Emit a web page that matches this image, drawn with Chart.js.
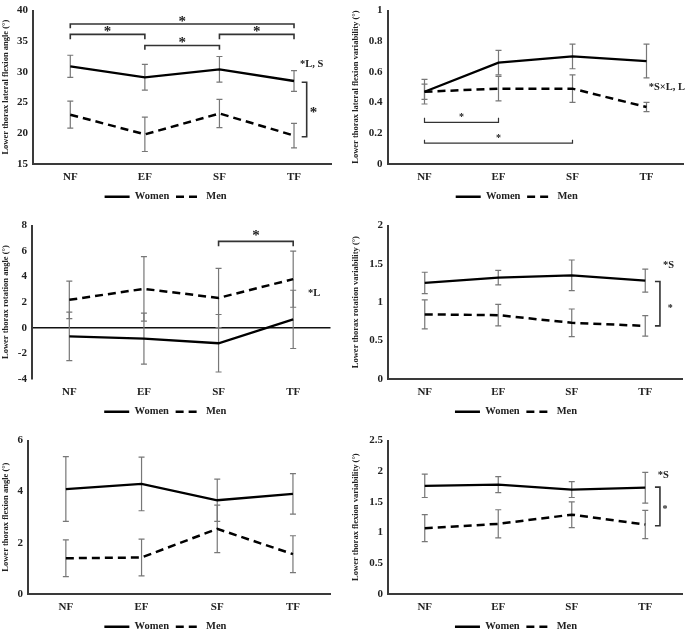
<!DOCTYPE html>
<html>
<head>
<meta charset="utf-8">
<script src="https://cdn.jsdelivr.net/npm/chart.js@4.4.1/dist/chart.umd.min.js"></script>
<style>
  html, body { margin: 0; padding: 0; background: #fff; }
  #wrap { position: relative; width: 685px; height: 633px; overflow: hidden; }
  canvas { position: absolute; }
</style>
</head>
<body>
<div id="wrap">
  <canvas id="c1" width="342" height="212" style="left:0;top:0"></canvas>
  <canvas id="c2" width="343" height="212" style="left:342px;top:0"></canvas>
  <canvas id="c3" width="342" height="212" style="left:0;top:215px"></canvas>
  <canvas id="c4" width="343" height="212" style="left:342px;top:215px"></canvas>
  <canvas id="c5" width="342" height="212" style="left:0;top:430px"></canvas>
  <canvas id="c6" width="343" height="212" style="left:342px;top:430px"></canvas>
</div>
<script>
const conditions = ['NF', 'EF', 'SF', 'TF'];

// lateral flexion angle
const latAngleWomen = [30.9, 29.1, 30.4, 28.5];
const latAngleWomenSD = [1.8, 2.1, 2.1, 1.7];
const latAngleMen = [23.0, 19.8, 23.2, 19.6];
const latAngleMenSD = [2.2, 2.8, 2.3, 2.0];
const latAngleTicks = [15, 20, 25, 30, 35, 40];

// lateral flexion variability
const latVarWomen = [0.47, 0.66, 0.70, 0.67];
const latVarWomenSD = [0.08, 0.08, 0.08, 0.11];
const latVarMen = [0.47, 0.49, 0.49, 0.37];
const latVarMenSD = [0.05, 0.08, 0.09, 0.03];
const latVarTicks = [0, 0.2, 0.4, 0.6, 0.8, 1];

// rotation angle
const rotAngleWomen = [-0.68, -0.86, -1.22, 0.65];
const rotAngleWomenSD = [1.9, 2.0, 2.25, 2.28];
const rotAngleMen = [2.18, 3.04, 2.33, 3.8];
const rotAngleMenSD = [1.47, 2.53, 2.32, 2.2];
const rotAngleTicks = [-4, -2, 0, 2, 4, 6, 8];

// rotation variability
const rotVarWomen = [1.25, 1.32, 1.35, 1.28];
const rotVarWomenSD = [0.14, 0.095, 0.2, 0.15];
const rotVarMen = [0.84, 0.83, 0.73, 0.69];
const rotVarMenSD = [0.19, 0.14, 0.18, 0.135];
const rotVarTicks = [0, 0.5, 1, 1.5, 2];

// flexion angle
const flexAngleWomen = [4.10, 4.30, 3.66, 3.91];
const flexAngleWomenSD = [1.27, 1.05, 0.83, 0.79];
const flexAngleMen = [1.39, 1.42, 2.54, 1.55];
const flexAngleMenSD = [0.72, 0.72, 0.93, 0.72];
const flexAngleTicks = [0, 2, 4, 6];

// flexion variability
const flexVarWomen = [1.76, 1.78, 1.70, 1.73];
const flexVarWomenSD = [0.19, 0.13, 0.13, 0.25];
const flexVarMen = [1.07, 1.14, 1.29, 1.13];
const flexVarMenSD = [0.22, 0.23, 0.21, 0.23];
const flexVarTicks = [0, 0.5, 1, 1.5, 2, 2.5];

// significance marks, in category index / axis units
const marks = {
  c1: {
    brackets: [
      {from: 0, to: 3, y: 37.8, end: 37.1, star: 38.7, size: 15},
      {from: 0, to: 1, y: 36.1, end: 35.3, star: 37.0, size: 15},
      {from: 1, to: 2, y: 34.3, end: 33.6, star: 35.2, size: 15},
      {from: 2, to: 3, y: 36.1, end: 35.3, star: 37.0, size: 15}
    ],
    side: [{x: 3.17, from: 28.3, to: 19.4, starX: 3.26, starY: 23.8, size: 15}],
    notes: [{text: '*L, S', x: 3.08, y: 31.2}]
  },
  c2: {
    brackets: [
      {from: 0, to: 1, y: 0.27, end: 0.30, star: 0.32, size: 10},
      {from: 0, to: 2, y: 0.134, end: 0.157, star: 0.182, size: 10}
    ],
    notes: [{text: '*S×L, L', x: 3.03, y: 0.50}]
  },
  c3: {
    brackets: [{from: 2, to: 3, y: 6.76, end: 6.38, star: 7.44, size: 15}],
    notes: [{text: '*L', x: 3.2, y: 2.68}]
  },
  c4: {
    side: [{x: 3.2, from: 1.27, to: 0.69, starX: 3.34, starY: 0.95, size: 10}],
    notes: [{text: '*S', x: 3.24, y: 1.48}]
  },
  c5: {},
  c6: {
    side: [{x: 3.2, from: 1.74, to: 1.11, starX: 3.27, starY: 1.41, size: 10}],
    notes: [{text: '*S', x: 3.17, y: 1.94}]
  }
};

const FONT = "'Liberation Serif', 'Times New Roman', serif";
const INK = '#222';

const errorBars = {
  id: 'errorBars',
  beforeDatasetsDraw(chart) {
    const ctx = chart.ctx, y = chart.scales.y;
    ctx.save();
    ctx.strokeStyle = '#777';
    ctx.lineWidth = 1.2;
    chart.data.datasets.forEach((ds, di) => {
      chart.getDatasetMeta(di).data.forEach((pt, i) => {
        const top = y.getPixelForValue(ds.data[i] + ds.errors[i]);
        const bot = y.getPixelForValue(ds.data[i] - ds.errors[i]);
        ctx.beginPath();
        ctx.moveTo(pt.x, top); ctx.lineTo(pt.x, bot);
        ctx.moveTo(pt.x - 3, top); ctx.lineTo(pt.x + 3, top);
        ctx.moveTo(pt.x - 3, bot); ctx.lineTo(pt.x + 3, bot);
        ctx.stroke();
      });
    });
    ctx.restore();
  }
};

function star(ctx, cx, cy, size) {
  ctx.font = 'bold ' + size + 'px ' + FONT;
  ctx.textAlign = 'center';
  ctx.textBaseline = 'alphabetic';
  ctx.fillText('*', cx, cy + size * 0.5);
}

const sigMarks = {
  id: 'sigMarks',
  afterDraw(chart) {
    const m = marks[chart.canvas.id] || {};
    const {ctx, scales: {x, y}} = chart;
    ctx.save();
    ctx.strokeStyle = '#333';
    ctx.fillStyle = INK;
    (m.brackets || []).forEach(b => {
      const x1 = x.getPixelForValue(b.from), x2 = x.getPixelForValue(b.to);
      const yl = y.getPixelForValue(b.y), ye = y.getPixelForValue(b.end);
      ctx.lineWidth = b.size > 12 ? 1.6 : 1.2;
      ctx.beginPath();
      ctx.moveTo(x1, ye); ctx.lineTo(x1, yl); ctx.lineTo(x2, yl); ctx.lineTo(x2, ye);
      ctx.stroke();
      star(ctx, (x1 + x2) / 2, y.getPixelForValue(b.star), b.size);
    });
    (m.side || []).forEach(s => {
      const xp = x.getPixelForValue(s.x);
      const y1 = y.getPixelForValue(s.from), y2 = y.getPixelForValue(s.to);
      ctx.lineWidth = 1.6;
      ctx.beginPath();
      ctx.moveTo(xp - 5, y1); ctx.lineTo(xp, y1); ctx.lineTo(xp, y2); ctx.lineTo(xp - 5, y2);
      ctx.stroke();
      star(ctx, x.getPixelForValue(s.starX), y.getPixelForValue(s.starY), s.size);
    });
    (m.notes || []).forEach(n => {
      ctx.font = 'bold 10.5px ' + FONT;
      ctx.textAlign = 'left';
      ctx.textBaseline = 'middle';
      ctx.fillText(n.text, x.getPixelForValue(n.x), y.getPixelForValue(n.y));
    });
    ctx.restore();
  }
};

// legend lines keep each dataset's dash pattern
function legendLabels(chart) {
  const items = Chart.defaults.plugins.legend.labels.generateLabels(chart);
  items.forEach(it => {
    const ds = chart.data.datasets[it.datasetIndex];
    it.lineDash = ds.borderDash || [];
    it.lineWidth = ds.borderWidth;
  });
  return items;
}

function panel(id, title, ticks, women, womenSD, men, menSD, lay) {
  const zeroLine = !!lay.zeroLine;
  return new Chart(document.getElementById(id), {
    type: 'line',
    data: {
      labels: conditions,
      datasets: [
        {label: 'Women', data: women, errors: womenSD, borderColor: '#000', backgroundColor: '#000',
         borderWidth: 2.3, pointRadius: 0, tension: 0},
        {label: 'Men', data: men, errors: menSD, borderColor: '#000', backgroundColor: '#000',
         borderWidth: 2.5, borderDash: [8, 5], pointRadius: 0, tension: 0}
      ]
    },
    plugins: [errorBars, sigMarks],
    options: {
      responsive: false,
      animation: false,
      events: [],
      layout: {padding: {left: lay.padLeft, right: lay.padRight, top: 5, bottom: 0}},
      scales: {
        x: {
          offset: true,
          grid: {display: false, drawTicks: false},
          border: {display: !zeroLine, color: '#3a3a3a', width: 2},
          ticks: {color: INK, padding: 7, font: {family: FONT, weight: 'bold', size: 11}},
          afterFit(s) { s.height = 21; }
        },
        y: {
          min: ticks[0],
          max: ticks[ticks.length - 1],
          afterBuildTicks(s) { s.ticks = ticks.map(v => ({value: v})); },
          grid: {
            display: zeroLine,
            drawTicks: false,
            lineWidth: 1.5,
            color: c => (c.tick && c.tick.value === 0) ? '#111' : 'rgba(0,0,0,0)'
          },
          border: {color: '#3a3a3a', width: 2},
          ticks: {color: INK, padding: 5, callback: v => String(v),
                  font: {family: FONT, weight: 'bold', size: 11, lineHeight: 1}},
          title: {display: true, text: title, color: INK, padding: {top: 1, bottom: 0},
                  font: {family: FONT, weight: 'bold', size: 8.5}},
          afterFit(s) { s.width = lay.axisX - lay.padLeft; }
        }
      },
      plugins: {
        legend: {
          position: 'bottom',
          labels: {usePointStyle: true, pointStyle: 'line', pointStyleWidth: 25, padding: 6.75,
                   color: INK, generateLabels: legendLabels,
                   font: {family: FONT, weight: 'bold', size: 10.5}}
        },
        tooltip: {enabled: false}
      }
    }
  });
}

panel('c1', 'Lower thorax lateral flexion angle (°)', latAngleTicks,
  latAngleWomen, latAngleWomenSD, latAngleMen, latAngleMenSD,
  {padLeft: 0, axisX: 33, padRight: 10.7});
panel('c2', 'Lower thorax lateral flexion variability (°)', latVarTicks,
  latVarWomen, latVarWomenSD, latVarMen, latVarMenSD,
  {padLeft: 8, axisX: 45.5, padRight: 1.5});
panel('c3', 'Lower thorax rotation angle (°)', rotAngleTicks,
  rotAngleWomen, rotAngleWomenSD, rotAngleMen, rotAngleMenSD,
  {padLeft: 0, axisX: 32, padRight: 11.5, zeroLine: true});
panel('c4', 'Lower thorax rotation variability (°)', rotVarTicks,
  rotVarWomen, rotVarWomenSD, rotVarMen, rotVarMenSD,
  {padLeft: 8, axisX: 46, padRight: 3});
panel('c5', 'Lower thorax flexion angle (°)', flexAngleTicks,
  flexAngleWomen, flexAngleWomenSD, flexAngleMen, flexAngleMenSD,
  {padLeft: 0, axisX: 28, padRight: 11.2});
panel('c6', 'Lower thorax flexion variability (°)', flexVarTicks,
  flexVarWomen, flexVarWomenSD, flexVarMen, flexVarMenSD,
  {padLeft: 8, axisX: 46, padRight: 3});
</script>
</body>
</html>
